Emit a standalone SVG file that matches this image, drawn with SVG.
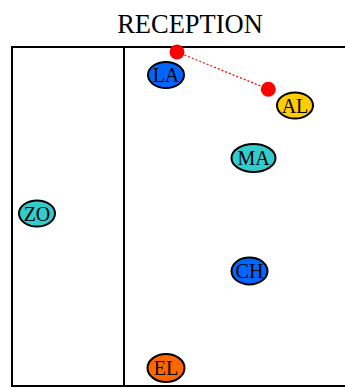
<svg xmlns="http://www.w3.org/2000/svg" width="345" height="388" viewBox="0 0 345 388">
<style>
.n ellipse{stroke:#000;stroke-width:2}
.n text{font-family:"Liberation Serif","Times New Roman",serif;font-size:20px;text-anchor:middle;fill:#000}
.dot{fill:#ff0000}
</style>
<rect width="345" height="388" fill="#fff"/>
<text x="190" y="33" font-family="'Liberation Serif','Times New Roman',serif" font-size="26.5" text-anchor="middle" fill="#000">RECEPTION</text>
<g id="frame" fill="none" stroke="#000" stroke-width="2">
<rect x="12" y="47" width="340" height="339"/>
<line x1="124" y1="47" x2="124" y2="386"/>
</g>
<g id="connectors">
<line x1="177" y1="52" x2="268" y2="89" stroke="#ff0000" stroke-width="1.2" stroke-dasharray="2,2"/>
<circle class="dot" cx="177" cy="52" r="7.5"/>
<circle class="dot" cx="268.3" cy="89.3" r="7.5"/>
</g>
<g id="LA" class="n"><ellipse cx="166" cy="75" rx="18" ry="13" fill="#0066ff"/><text x="166" y="82">LA</text></g>
<g id="AL" class="n"><ellipse cx="295" cy="105.5" rx="18" ry="13" fill="#ffcc00"/><text x="295" y="112.5">AL</text></g>
<g id="MA" class="n"><ellipse cx="253.5" cy="158" rx="22" ry="14" fill="#33cccc"/><text x="253.5" y="165">MA</text></g>
<g id="ZO" class="n"><ellipse cx="37" cy="213.5" rx="18" ry="13" fill="#33cccc"/><text x="37" y="220.5">ZO</text></g>
<g id="CH" class="n"><ellipse cx="249.5" cy="271" rx="18" ry="13.5" fill="#0066ff"/><text x="249.5" y="278">CH</text></g>
<g id="EL" class="n"><ellipse cx="166" cy="368" rx="18.5" ry="14" fill="#ff6600"/><text x="166" y="375">EL</text></g>
</svg>
